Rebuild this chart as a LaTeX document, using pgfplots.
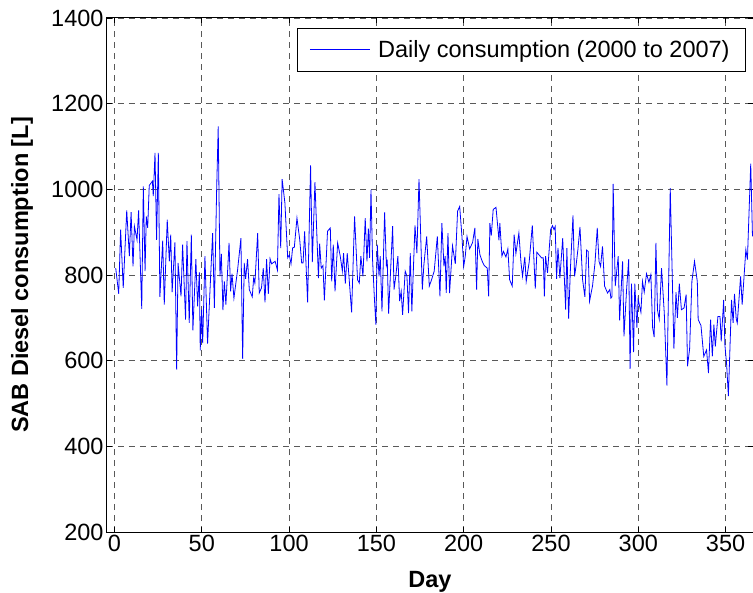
\documentclass[border=0pt]{standalone}
\usepackage{pgfplots}
\pgfplotsset{compat=1.18}
\usepackage{fontspec}
\setmainfont{Liberation Sans}
\begin{document}
\begin{tikzpicture}
\begin{axis}[
  scale only axis,
  width=646bp, height=514bp,
  xmin=-4.3, xmax=365.7, ymin=200, ymax=1400,
  xtick={0,50,...,350}, ytick={200,400,...,1400},
  /pgf/number format/assume math mode=true,
  /pgf/number format/1000 sep={},
  ticklabel style={font=\fontsize{23.5bp}{28bp}\selectfont},
  major tick length=5bp,
  tick style={black, line width=0.8bp},
  axis line style={black, line width=1bp},
  grid=major,
  major grid style={dash pattern=on 6bp off 5bp, black!65, line width=0.8bp},
  xlabel={\bfseries Day},
  ylabel={\bfseries SAB Diesel consumption [L]},
  label style={font=\fontsize{23.5bp}{28bp}\selectfont},
  xlabel style={at={(axis description cs:0.5,-0.1089)}, anchor=base},
  ylabel style={at={(axis description cs:-0.1316,0.5)}, anchor=center},
  legend style={at={(axis description cs:1,1)}, anchor=north east,
    xshift=-7bp, yshift=-10bp, draw=black, line width=0.8bp, fill=white,
    inner xsep=12bp, inner ysep=8bp,
    font=\fontsize{23.5bp}{28bp}\selectfont,
    nodes={inner sep=4bp}},
  legend image code/.code={\draw[#1] (0bp,0bp) -- (60bp,0bp); \path (64bp,0bp);},
]
\addplot[color={rgb,255:red,0;green,0;blue,255}, line width=0.8bp] coordinates {
(0.7,816)(2.4,756)(3.5,906)(5,770)(7,951)(8.5,844)(9.5,947)(10.6,820)(11.4,914)(12.9,882)(13.8,951)(15.6,721)(16.5,1007)(17.5,809)(18.2,937)(19,910)(19.9,1009)(21.7,1019)(22.2,984)(23.2,1085)(24.1,882)(25.1,1085)(26,749)(27.6,880)(28.5,731)(30.2,929)(31.4,832)(32.2,894)(33,760)(34.6,876)(35.6,579)(36.4,828)(38.1,750)(39,871)(40.7,696)(41.5,879)(42.8,688)(44,894)(44.9,671)(46.6,837)(47.6,727)(48.6,806)(49.1,624)(49.9,719)(50.5,641)(51.8,844)(53.3,640)(56.2,898)(57.2,723)(58.5,999)(59.4,1147)(60.4,797)(61.2,849)(62.1,718)(62.9,785)(63.8,731)(65.6,875)(66.5,762)(67.3,803)(68.4,746)(70.5,812)(72.4,886)(73.4,604)(74.3,828)(75.1,791)(76.2,837)(77.2,766)(78.9,749)(79.7,793)(80.4,781)(82,898)(82.9,758)(84.2,770)
(85.2,816)(86.2,736)(87.1,837)(88.1,756)(89.1,838)(90,826)(92,832)(93.3,812)(94.2,989)(95.2,863)(96,1024)(97.6,968)(99.2,840)(100.1,847)(101.1,826)(102,863)(103,865)(104.5,933)(106.1,882)(107.2,828)(108,828)(108.9,902)(110.6,736)(112.3,1056)(113.3,830)(114.8,1017)(116.8,793)(117.5,873)(118.4,816)(119.4,822)(120.2,741)(122,902)(123.6,910)(124.4,785)(125.3,871)(126.3,762)(127.8,875)(129.3,844)(130.5,809)(131.2,851)(132.2,780)(133.3,851)(135.8,713)(137.5,937)(139.2,789)(140.2,781)(141.1,844)(142.3,797)(143.6,933)(144.6,832)(145.4,908)(146.1,840)(146.9,999)(147.8,836)(148.8,750)(149.7,684)(150.5,871)(151.5,797)(152.2,844)(153.2,715)(154.7,946)(155.7,824)(156.2,836)(157,710)(159.3,914)(160.1,766)(161.1,797)(162.3,844)(163.3,739)(164.2,762)(165,707)(166.5,809)(167.5,797)(168.4,711)(169.4,851)(170.3,715)(172.1,916)(173.2,851)(174.4,1024)
(176.3,766)(177.2,824)(178.8,890)(180.3,774)(181.6,789)(183.1,809)(184.9,890)(186.4,750)(187.5,921)(188.7,820)(189.4,844)(190,758)(191,898)(191.9,758)(193.6,868)(195.2,826)(196.5,949)(197.7,960)(199,890)(200,820)(200.9,844)(201.9,890)(203.4,861)(205.1,876)(206.4,910)(207.4,766)(208.1,884)(209.3,847)(210.6,832)(211.8,822)(213.5,816)(214.3,750)(215,921)(215.8,892)(216.9,953)(218.5,958)(220.2,881)(220.7,921)(221.9,844)(222.8,855)(224.2,842)(225.3,861)(226.3,789)(227.8,774)(228.9,894)(229.9,850)(231.6,898)(232.8,830)(233.7,797)(235,842)(235.8,785)(237.5,830)(239.3,916)(241,768)(241.9,853)(244.6,840)(245.6,840)(246.2,750)(246.9,844)(248,805)(249.8,906)(250.9,915)(251.7,906)(252.4,913)(253.2,791)(254,863)(255.1,793)(256.7,886)(258.4,719)(259.1,863)(260.1,698)(261.1,812)(262.6,939)(263.5,797)(264.3,820)(265.4,859)(266.6,912)
(268.1,789)(269.4,749)(270.4,858)(271.3,855)(272.1,739)(273.8,775)(275.2,828)(276.5,910)(277.5,832)(278.4,820)(279.5,867)(280.7,774)(282.4,758)(283.7,766)(284.3,746)(284.9,749)(285.6,1013)(286.8,774)(288.5,844)(289.3,694)(291,832)(291.8,657)(293.3,766)(294.5,837)(295.3,581)(296.1,780)(297.3,620)(298,780)(299.2,677)(299.9,744)(301.5,713)(302.4,785)(303.4,760)(304.7,803)(306.1,783)(307.2,801)(308.2,677)(309.1,655)(310.1,875)(311,718)(312,697)(313.3,816)(314.9,710)(316.4,542)(318.3,1003)(320.4,628)(321.6,760)(322.4,700)(323.5,780)(324.7,719)(326.2,723)(327.4,754)(328.2,587)(329.4,628)(330.7,785)(332.2,832)(333.8,785)(334.3,696)(335.9,682)(337.5,610)(339.1,625)(340.2,571)(341.4,696)(342.4,610)(343.3,684)(344.1,633)(345.6,703)(346.8,703)(347.5,645)(348.3,700)(348.9,742)(349.6,637)(350.6,591)(351.6,517)(353.4,742)(354.3,688)(355.1,756)(356.1,697)(356.7,688)(358.6,797)(359.5,731)(361.6,859)(362.5,836)(364.4,1060)(365.4,890)
};
\addlegendentry{Daily consumption (2000 to 2007)}
\end{axis}
\pgfresetboundingbox
\useasboundingbox (current axis.south west) ++(-107bp,-61bp) rectangle ++(753bp,593bp);
\end{tikzpicture}
\end{document}
